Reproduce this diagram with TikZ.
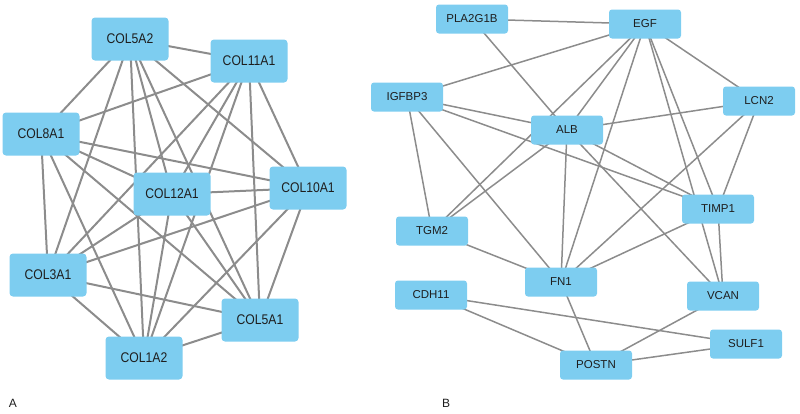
\documentclass[tikz,border=0pt]{standalone}
\usepackage{fontspec}
\setmainfont{Liberation Sans}
\newfontfamily\afont[FakeStretch=0.87]{Liberation Sans}
\pgfdeclarelayer{bg}
\pgfsetlayers{bg,main}
\definecolor{nodeblue}{RGB}{125,205,240}
\definecolor{edgegray}{RGB}{140,140,140}
\definecolor{txt}{RGB}{30,30,30}
\begin{document}
\begin{tikzpicture}[x=1pt,y=-1pt,
  anode/.style={draw=none, fill=nodeblue, rounded corners=3.5pt, minimum width=77pt, minimum height=43pt, inner sep=0pt, font=\afont\fontsize{14}{14}\selectfont, text=txt},
  bnode/.style={draw=none, fill=nodeblue, rounded corners=3pt, minimum width=72pt, minimum height=29pt, inner sep=0pt, font=\fontsize{11.5}{12}\selectfont, text=txt},
  aedge/.style={draw=edgegray, line width=2pt},
  bedge/.style={draw=edgegray, line width=1.5pt},
  panellabel/.style={font=\fontsize{12}{12}\selectfont, text=txt, inner sep=0pt}]
\useasboundingbox (0,0) rectangle (800,413);
% Panel A
\node[anode] (a52) at (130,39) {COL5A2};
\node[anode] (a11) at (249,61) {COL11A1};
\node[anode] (a8) at (41,134) {COL8A1};
\node[anode] (a12) at (172,194) {COL12A1};
\node[anode] (a10) at (308,188) {COL10A1};
\node[anode] (a3) at (48,275) {COL3A1};
\node[anode] (a51) at (260,320) {COL5A1};
\node[anode] (a1) at (144,358) {COL1A2};
\begin{pgfonlayer}{bg}
\foreach \u/\v in {a52/a11,a52/a8,a52/a12,a52/a10,a52/a3,a52/a51,a52/a1,
  a11/a8,a11/a12,a11/a10,a11/a3,a11/a51,a11/a1,
  a8/a12,a8/a10,a8/a3,a8/a51,a8/a1,
  a12/a10,a12/a3,a12/a51,a12/a1,
  a10/a3,a10/a51,a10/a1,
  a3/a51,a3/a1,
  a51/a1}
  \draw[aedge] (\u.center) -- (\v.center);
\end{pgfonlayer}
% Panel B
\node[bnode] (pla) at (472,19) {PLA2G1B};
\node[bnode] (egf) at (645,24) {EGF};
\node[bnode] (igf) at (407,97) {IGFBP3};
\node[bnode] (lcn) at (759,101) {LCN2};
\node[bnode] (alb) at (567,130) {ALB};
\node[bnode] (timp) at (718,209) {TIMP1};
\node[bnode] (tgm) at (432,231) {TGM2};
\node[bnode] (fn) at (561,282) {FN1};
\node[bnode] (cdh) at (431,295) {CDH11};
\node[bnode] (vcan) at (723,296) {VCAN};
\node[bnode] (sulf) at (746,344) {SULF1};
\node[bnode] (postn) at (596,365) {POSTN};
\begin{pgfonlayer}{bg}
\foreach \u/\v in {pla/egf,pla/alb,egf/igf,egf/alb,egf/tgm,egf/fn,egf/timp,egf/vcan,egf/lcn,
  lcn/alb,lcn/timp,lcn/fn,igf/alb,igf/timp,igf/tgm,igf/fn,
  alb/fn,alb/timp,alb/vcan,alb/tgm,tgm/fn,timp/fn,timp/vcan,
  fn/postn,cdh/postn,cdh/sulf,vcan/postn,postn/sulf}
  \draw[bedge] (\u.center) -- (\v.center);
\end{pgfonlayer}
\node[panellabel] (labA) at (13,403) {A};
\node[panellabel] (labB) at (446,403) {B};
\end{tikzpicture}
\end{document}
